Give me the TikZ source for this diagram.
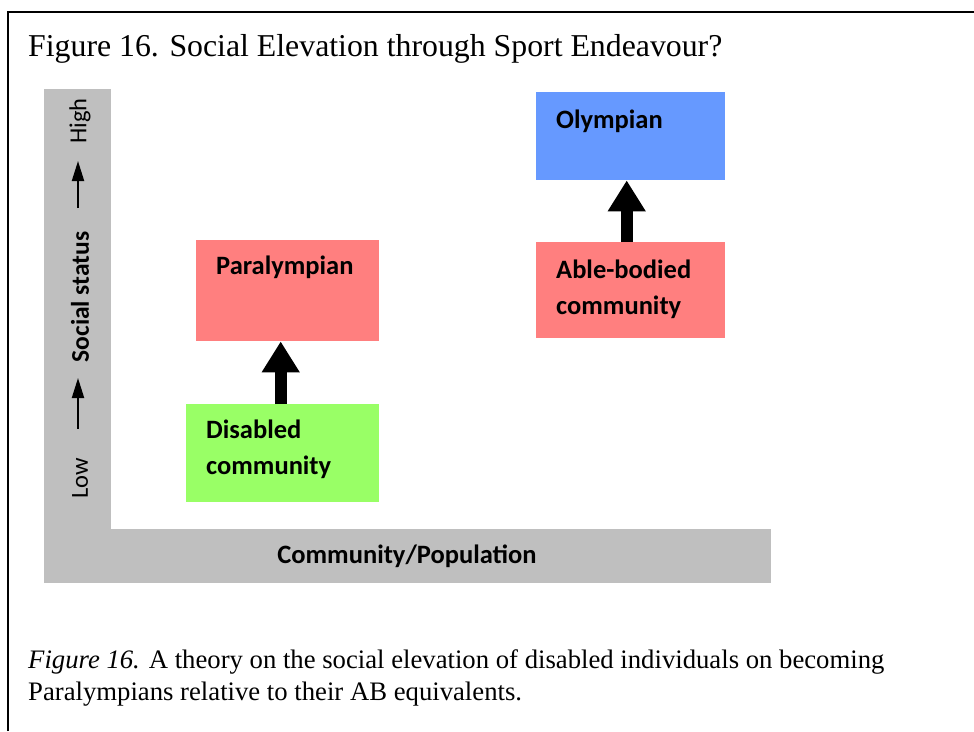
\documentclass[tikz,border=0pt]{standalone}
\usepackage{fontspec}
\setmainfont{Liberation Serif}
\newfontfamily\calibri{Carlito}
\usetikzlibrary{arrows.meta}
\definecolor{axisgray}{HTML}{BFBFBF}
\definecolor{pinkbox}{HTML}{FF7F7F}
\definecolor{greenbox}{HTML}{99FF66}
\definecolor{bluebox}{HTML}{6699FF}

\tikzset{
  statusbox/.style = {rectangle, anchor = north west, inner sep = 0pt},
  boxtext/.style = {anchor = base west, inner sep = 0pt, align = left,
                    font = \calibri\bfseries\fontsize{26.5}{36}\selectfont},
  liftarrow/.style = {-{Triangle[width = 36pt, length = 31pt]}, line width = 12pt},
  axistext/.style = {rotate = 90, inner sep = 0pt, font = \calibri\fontsize{24.5}{28}\selectfont},
  axisarrow/.style = {-{Triangle[width = 12pt, length = 20pt]}, line width = 2pt}
}

\begin{document}
\begin{tikzpicture}[x = 1pt, y = 1pt]
        \useasboundingbox (0, 0) rectangle (974, -731);

        % Frame
        \draw [line width = 2pt] (8, -731) -- (8, -12) -- (974, -12);

        % Title and caption
        \node [anchor = base west, inner sep = 0pt, font = \fontsize{31.8}{36}\selectfont] (title) at (28, -56) {Figure 16. Social Elevation through Sport Endeavour?};
        \node [anchor = base west, inner sep = 0pt, align = left, font = \fontsize{26.7}{32}\selectfont] (caption) at (28, -700) {\textit{Figure 16.} A theory on the social elevation of disabled individuals on becoming\\Paralympians relative to their AB equivalents.};

        % Axes
        \fill [axisgray] (44, -89) rectangle (111, -583);
        \fill [axisgray] (44, -529) rectangle (771, -583);
        \node [font = \calibri\bfseries\fontsize{26.5}{30}\selectfont] (xlabel) at (407, -556) {Community/Population};

        \node [axistext] (low) at (80, -478.5) {Low};
        \node [axistext, font = \calibri\bfseries\fontsize{25.5}{30}\selectfont] (status) at (80, -297) {Social status};
        \node [axistext] (high) at (80, -121) {High};
        \draw [axisarrow, shorten <= 50pt, shorten >= 81pt] ([xshift = -2pt]low.center) -- ([xshift = -2pt]status.center);
        \draw [axisarrow, shorten <= 89pt, shorten >= 40pt] ([xshift = -2pt]status.center) -- ([xshift = -2pt]high.center);

        % Boxes
        \node [statusbox, fill = pinkbox, minimum width = 183pt, minimum height = 101pt] (para) at (196, -240) {};
        \node [statusbox, fill = greenbox, minimum width = 193pt, minimum height = 98pt] (dis) at (186, -404) {};
        \node [statusbox, fill = bluebox, minimum width = 189pt, minimum height = 88pt] (olym) at (536, -92) {};
        \node [statusbox, fill = pinkbox, minimum width = 189pt, minimum height = 96pt] (able) at (536, -242) {};

        \node [boxtext] (paratext) at (216, -274) {Paralympian};
        \node [boxtext] (distext) at (206, -474) {Disabled\\community};
        \node [boxtext] (olymtext) at (556, -128) {Olympian};
        \node [boxtext] (abletext) at (556, -314) {Able-bodied\\community};

        % Draw the links
        \draw [liftarrow] ([xshift = -2pt]dis.north) -- ([xshift = -2pt]dis.north |- para.south);
        \draw [liftarrow] ([xshift = -4pt]able.north) -- ([xshift = -4pt]olym.south);
\end{tikzpicture}
\end{document}
